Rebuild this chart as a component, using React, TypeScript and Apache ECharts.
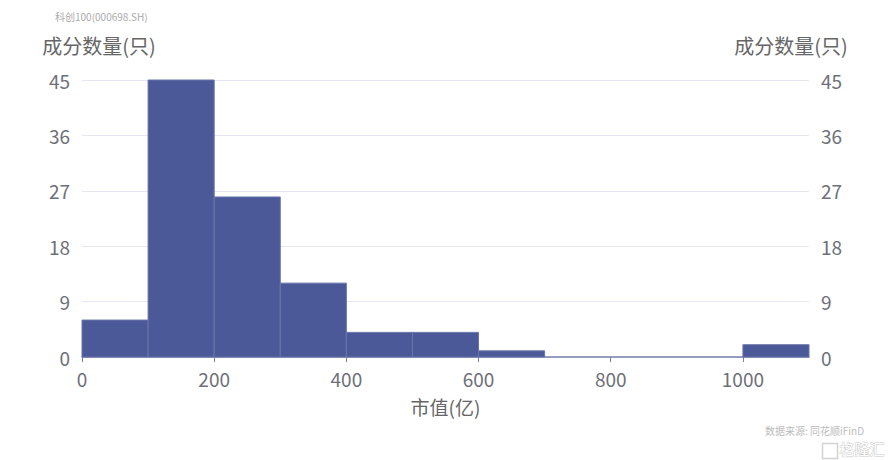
import { useEffect, useRef } from 'react';
import * as echarts from 'echarts';

// 市值分布直方图（区间单位：亿）
const binStarts = [0, 100, 200, 300, 400, 500, 600, 700, 800, 900, 1000];
const binEnds = [100, 200, 300, 400, 500, 600, 700, 800, 900, 1000, 1100];
const counts = [6, 45, 26, 12, 4, 4, 1, 0, 0, 0, 2];

const xTicks = [0, 200, 400, 600, 800, 1000];
const yTicks = [0, 9, 18, 27, 36, 45];

const BAR_FILL = '#4c5999';
const BAR_STROKE = '#6974a9';
const LABEL_COLOR = '#6e7079';
const NAME_COLOR = '#666666';
const FONT = '"Noto Sans CJK SC", "Noto Sans", sans-serif';

export default function App() {
  const chartRef = useRef<HTMLDivElement>(null);

  useEffect(() => {
    if (!chartRef.current) return;
    const chart = echarts.init(chartRef.current, undefined, { renderer: 'svg' });

    const yAxisBase = {
      type: 'value' as const,
      min: yTicks[0],
      max: yTicks[yTicks.length - 1],
      interval: 9,
      nameLocation: 'end' as const,
      nameGap: 25,
      axisLine: { show: false },
      axisTick: { show: false },
      axisLabel: { fontSize: 19, color: LABEL_COLOR, margin: 12, fontFamily: FONT },
    };

    chart.setOption({
      animation: false,
      textStyle: { fontFamily: FONT },
      title: {
        text: '科创100(000698.SH)',
        left: 50,
        top: 6,
        textStyle: { fontSize: 10, color: '#aaaaaa', fontWeight: 'normal' },
      },
      grid: { left: 82, right: 83, top: 80, bottom: 103 },
      xAxis: {
        type: 'value',
        min: 0,
        max: 1100,
        interval: 200,
        name: '市值(亿)',
        nameLocation: 'middle',
        nameGap: 40,
        nameTextStyle: { fontSize: 19, color: NAME_COLOR },
        axisLine: { lineStyle: { color: '#7580a8', width: 1.5 } },
        axisTick: { customValues: xTicks, length: 5, lineStyle: { color: '#7580a8' } },
        axisLabel: {
          customValues: xTicks,
          fontSize: 19,
          color: LABEL_COLOR,
          margin: 12,
          formatter: (v: number) => String(v),
        },
        splitLine: { show: false },
      },
      yAxis: [
        {
          ...yAxisBase,
          position: 'left',
          name: '成分数量(只)',
          nameTextStyle: { fontSize: 20, color: NAME_COLOR, align: 'center', padding: [0, 0, 0, 34] },
          splitLine: { lineStyle: { color: '#e6e7f3' } },
        },
        {
          ...yAxisBase,
          position: 'right',
          name: '成分数量(只)',
          nameTextStyle: { fontSize: 20, color: NAME_COLOR, align: 'center', padding: [0, 36, 0, 0] },
          splitLine: { show: false },
        },
      ],
      series: [
        {
          type: 'custom',
          yAxisIndex: 0,
          encode: { x: [0, 1], y: 2 },
          data: counts.map((c, i) => [binStarts[i], binEnds[i], c]),
          renderItem: (_params: unknown, api: any) => {
            const topLeft = api.coord([api.value(0), api.value(2)]);
            const bottomRight = api.coord([api.value(1), 0]);
            if (api.value(2) === 0) return null;
            return {
              type: 'rect',
              shape: {
                x: topLeft[0],
                y: topLeft[1],
                width: bottomRight[0] - topLeft[0],
                height: bottomRight[1] - topLeft[1],
              },
              style: { fill: BAR_FILL, stroke: BAR_STROKE, lineWidth: 1 },
            };
          },
        },
      ],
      graphic: [
        {
          type: 'text',
          left: 765,
          top: 425,
          style: { text: '数据来源: 同花顺iFinD', fontSize: 10, fill: '#bbbbbb', fontFamily: FONT },
        },
        {
          type: 'rect',
          left: 820,
          top: 441,
          shape: { width: 15, height: 15 },
          style: { fill: 'none', stroke: '#d3d3d3', lineWidth: 1.5 },
        },
        {
          type: 'text',
          left: 839,
          top: 440,
          style: { text: '格隆汇', fontSize: 15, fill: '#ffffff', stroke: '#cccccc', lineWidth: 1, fontFamily: FONT },
        },
      ],
    });

    return () => chart.dispose();
  }, []);

  return (
    <div
      ref={chartRef}
      style={{ position: 'absolute', left: 0, top: 0, width: 892, height: 460, background: '#ffffff' }}
    />
  );
}
